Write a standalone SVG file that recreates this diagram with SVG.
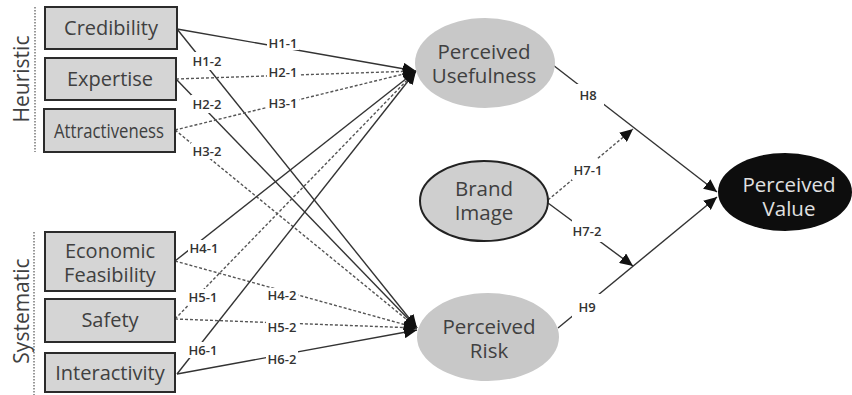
<svg xmlns="http://www.w3.org/2000/svg" width="852" height="395" viewBox="0 0 852 395">
<style>
.box{fill:#d5d5d5;stroke:#2b2b2b;stroke-width:2}
.bt{font-family:"Open Sans","Noto Sans",sans-serif;font-size:20px;fill:#404040;text-anchor:middle}
.et{font-family:"Open Sans","Noto Sans",sans-serif;font-size:20.5px;fill:#404040;text-anchor:middle}
.side{font-family:"Open Sans","Noto Sans",sans-serif;font-size:21px;fill:#404040;text-anchor:middle}
.sol{stroke:#333;stroke-width:1.4;fill:none}
.dot{stroke:#555;stroke-width:1.4;fill:none;stroke-dasharray:3 2}
.lb{font-family:"Open Sans","Noto Sans",sans-serif;font-size:13px;font-weight:600;fill:#333;text-anchor:middle}
.bg{fill:#fff}
.grp{stroke:#777;stroke-width:1.5;stroke-dasharray:1.5 1.5}
</style>
<defs>
<marker id="ah" markerUnits="userSpaceOnUse" markerWidth="14" markerHeight="12" refX="13" refY="6" orient="auto">
<path d="M0,0 L13,6 L0,12 Z" fill="#111"/>
</marker>
</defs>

<g id="group-labels">
<line class="grp" x1="35" y1="7" x2="35" y2="152"/>
<text class="side" transform="translate(29,79) rotate(-90)">Heuristic</text>
<line class="grp" x1="34" y1="232" x2="34" y2="395"/>
<text class="side" transform="translate(29,311) rotate(-90)">Systematic</text>
</g>

<g id="connectors">
<line class="sol" x1="177" y1="29" x2="416" y2="71" marker-end="url(#ah)"/>
<line class="sol" x1="177" y1="29" x2="417" y2="328" marker-end="url(#ah)"/>
<line class="dot" x1="176" y1="79" x2="416" y2="71" marker-end="url(#ah)"/>
<line class="sol" x1="176" y1="79" x2="417" y2="328" marker-end="url(#ah)"/>
<line class="dot" x1="175" y1="130" x2="416" y2="71" marker-end="url(#ah)"/>
<line class="dot" x1="175" y1="130" x2="417" y2="328" marker-end="url(#ah)"/>
<line class="sol" x1="175" y1="261" x2="416" y2="71" marker-end="url(#ah)"/>
<line class="dot" x1="175" y1="261" x2="417" y2="328" marker-end="url(#ah)"/>
<line class="dot" x1="175" y1="319" x2="416" y2="71" marker-end="url(#ah)"/>
<line class="dot" x1="175" y1="319" x2="417" y2="328" marker-end="url(#ah)"/>
<line class="sol" x1="177" y1="374" x2="416" y2="71" marker-end="url(#ah)"/>
<line class="sol" x1="177" y1="374" x2="417" y2="330" marker-end="url(#ah)"/>
<line class="sol" x1="553" y1="65" x2="717" y2="192" marker-end="url(#ah)"/>
<line class="sol" x1="558" y1="328" x2="717" y2="197" marker-end="url(#ah)"/>
<line class="dot" x1="548" y1="200" x2="633" y2="129" marker-end="url(#ah)"/>
<line class="sol" x1="548" y1="203" x2="633" y2="266" marker-end="url(#ah)"/>

<rect class="bg" x="267" y="36" width="32" height="14"/><text class="lb" x="283" y="47.5">H1-1</text>
<rect class="bg" x="191" y="52" width="32" height="18"/><text class="lb" x="207" y="65.5">H1-2</text>
<rect class="bg" x="267" y="65" width="32" height="14"/><text class="lb" x="283" y="76.5">H2-1</text>
<rect class="bg" x="191" y="95" width="32" height="18"/><text class="lb" x="207" y="108.5">H2-2</text>
<rect class="bg" x="267" y="96" width="32" height="14"/><text class="lb" x="283" y="107.5">H3-1</text>
<rect class="bg" x="191" y="143" width="32" height="16"/><text class="lb" x="207" y="155.5">H3-2</text>
<rect class="bg" x="188" y="240" width="32" height="16"/><text class="lb" x="204" y="252.5">H4-1</text>
<rect class="bg" x="266" y="288" width="32" height="14"/><text class="lb" x="282" y="299.5">H4-2</text>
<rect class="bg" x="187" y="289" width="32" height="16"/><text class="lb" x="203" y="301.5">H5-1</text>
<rect class="bg" x="266" y="320" width="32" height="14"/><text class="lb" x="282" y="331.5">H5-2</text>
<rect class="bg" x="187" y="342" width="32" height="16"/><text class="lb" x="203" y="354.5">H6-1</text>
<rect class="bg" x="266" y="351" width="32" height="14"/><text class="lb" x="282" y="363.5">H6-2</text>
<rect class="bg" x="572" y="84" width="32" height="22"/><text class="lb" x="588" y="99.5">H8</text>
<rect class="bg" x="572" y="159" width="32" height="21"/><text class="lb" x="588" y="174.5">H7-1</text>
<rect class="bg" x="572" y="220" width="32" height="22"/><text class="lb" x="587" y="235.5">H7-2</text>
<rect class="bg" x="572" y="294" width="33" height="24"/><text class="lb" x="587" y="311.5">H9</text>
</g>

<g id="credibility"><rect class="box" x="45" y="7" width="132" height="42"/><text class="bt" x="111" y="35">Credibility</text></g>
<g id="expertise"><rect class="box" x="45" y="58" width="131" height="42"/><text class="bt" x="110" y="86">Expertise</text></g>
<g id="attractiveness"><rect class="box" x="44" y="109" width="131" height="43"/><text class="bt" x="109" y="138" textLength="110" lengthAdjust="spacingAndGlyphs">Attractiveness</text></g>
<g id="economic-feasibility"><rect class="box" x="45" y="232" width="130" height="59"/><text class="bt" x="110" y="258">Economic</text><text class="bt" x="110" y="282">Feasibility</text></g>
<g id="safety"><rect class="box" x="45" y="299" width="130" height="43"/><text class="bt" x="110" y="327">Safety</text></g>
<g id="interactivity"><rect class="box" x="45" y="353" width="130" height="39"/><text class="bt" x="110" y="380">Interactivity</text></g>

<g id="perceived-usefulness"><ellipse cx="485" cy="63" rx="70" ry="45" fill="#c8c8c8"/><text class="et" x="484" y="59">Perceived</text><text class="et" x="484" y="83">Usefulness</text></g>
<g id="brand-image"><ellipse cx="484" cy="201" rx="64" ry="40" fill="#cfcfcf" stroke="#222" stroke-width="2"/><text class="et" x="484" y="196">Brand</text><text class="et" x="484" y="220">Image</text></g>
<g id="perceived-risk"><ellipse cx="488" cy="337" rx="71" ry="44" fill="#c8c8c8"/><text class="et" x="489" y="334">Perceived</text><text class="et" x="489" y="358">Risk</text></g>
<g id="perceived-value"><ellipse cx="785" cy="192" rx="67" ry="39" fill="#0d0d0d"/><text class="et" x="789" y="192" style="fill:#e0e0e0">Perceived</text><text class="et" x="789" y="216" style="fill:#e0e0e0">Value</text></g>
</svg>
